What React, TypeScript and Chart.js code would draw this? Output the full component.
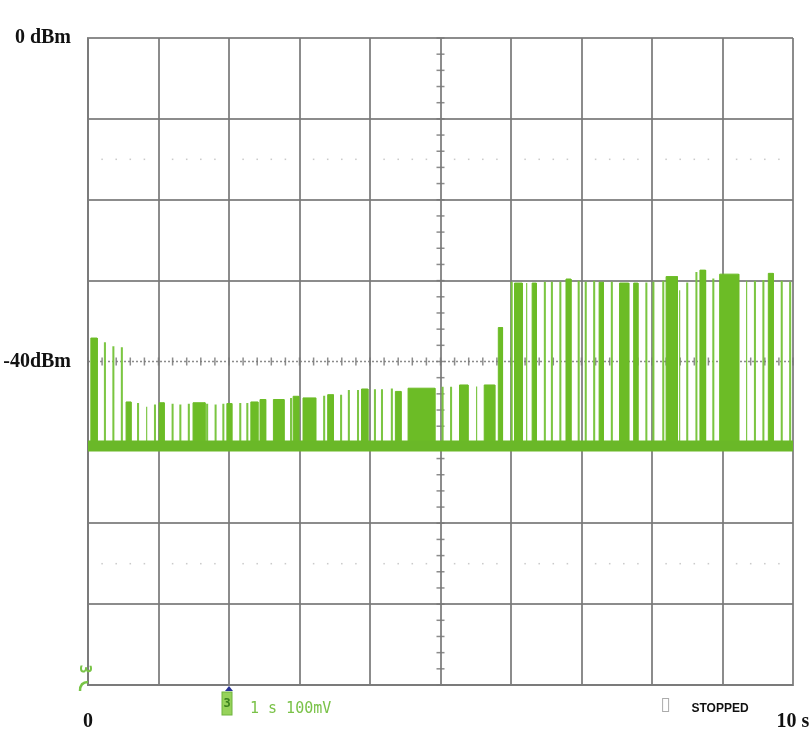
import React, { useEffect, useRef } from 'react';
import { Chart, registerables } from 'chart.js';

Chart.register(...registerables);

// Axis labels
const yLabelValues = [0, -40];
const yLabelTexts = ['0 dBm', '-40dBm'];
const xLabelValues = [0, 10];
const xLabelTexts = ['0', '10 s'];

// Noise floor (dBm) and base of the bursts
const floorLevel = -50.45;
const burstBase = -50.2;

// Thin single bursts: time (s) and peak level (dBm)
const spikeTimes = [
  0.24, 0.36, 0.48, 0.71, 0.83, 0.95, 1.2, 1.31, 1.43, 1.69, 1.81, 1.92, 2.16, 2.26,
  2.88, 3.35, 3.59, 3.7, 3.83, 4.07, 4.17, 4.31, 5.03, 5.15, 5.51,
  6.01, 6.22, 6.48, 6.58, 6.7, 6.96, 7.06, 7.18, 7.43, 7.92, 8.02, 8.16, 8.39, 8.5,
  8.63, 8.87, 9.34, 9.46, 9.58, 9.84, 9.96,
];
const spikeLevels = [
  -37.7, -38.2, -38.3, -45.2, -45.6, -45.4, -45.3, -45.4, -45.3, -45.3, -45.4, -45.3, -45.2, -45.2,
  -44.6, -44.3, -44.2, -43.6, -43.6, -43.5, -43.5, -43.4, -43.2, -43.2, -43.1,
  -30.2, -30.3, -30.2, -30.2, -30.2, -30.1, -30.2, -30.1, -30.2, -30.3, -30.2, -30.1, -31.2, -30.3,
  -29.0, -29.8, -30.0, -30.1, -30.0, -30.1, -30.2,
];

// Dense burst blocks: start (s), end (s), level (dBm)
const blockStarts = [
  0.04, 0.54, 1.01, 1.49, 1.97, 2.31, 2.44, 2.63, 2.91, 3.05, 3.4, 3.88, 4.36, 4.54,
  5.27, 5.62, 5.82, 6.05, 6.3, 6.78, 7.25, 7.54, 7.74, 8.2, 8.68, 8.96, 9.65,
];
const blockEnds = [
  0.13, 0.61, 1.08, 1.66, 2.04, 2.41, 2.52, 2.78, 2.99, 3.23, 3.48, 3.97, 4.44, 4.92,
  5.39, 5.77, 5.88, 6.16, 6.36, 6.85, 7.31, 7.67, 7.8, 8.36, 8.76, 9.23, 9.72,
];
const blockLevels = [
  -37.1, -45.0, -45.1, -45.1, -45.2, -45.0, -44.7, -44.7, -44.3, -44.5, -44.1, -43.4, -43.7, -43.3,
  -42.9, -42.9, -35.8, -30.3, -30.3, -29.8, -30.2, -30.3, -30.3, -29.5, -28.7, -29.2, -29.1,
];

const dottedLevels = [-15, -65];
const centerTime = 5;
const centerLevel = -40;
const triggerTime = 2;

const GRID = 'rgba(120,120,120,0.85)';
const GREEN = 'rgb(108,188,38)';
const GREEN_THIN = 'rgba(120,196,62,0.95)';

function rectPath(starts: number[], ends: number[], levels: number[]) {
  const pts: { x: number; y: number }[] = [];
  for (let i = 0; i < starts.length; i++) {
    pts.push({ x: starts[i], y: burstBase });
    pts.push({ x: starts[i], y: levels[i] });
    pts.push({ x: ends[i], y: levels[i] });
    pts.push({ x: ends[i], y: burstBase });
  }
  return pts;
}

const scopePlugin = {
  id: 'scope',
  beforeDraw(chart: any) {
    const { ctx, width, height } = chart;
    ctx.save();
    ctx.fillStyle = '#ffffff';
    ctx.fillRect(0, 0, width, height);
    ctx.restore();
  },
  beforeDatasetsDraw(chart: any) {
    const { ctx, scales } = chart;
    const xs = scales.x;
    const ys = scales.y;
    const xc = xs.getPixelForValue(centerTime);
    const yc = ys.getPixelForValue(centerLevel);
    ctx.save();
    ctx.strokeStyle = GRID;
    ctx.lineWidth = 1.5;
    ctx.setLineDash([2, 2]);
    ctx.beginPath();
    ctx.moveTo(xs.left, yc);
    ctx.lineTo(xs.right, yc);
    ctx.stroke();
    ctx.setLineDash([]);
    for (let v = -80; v <= 0.001; v += 2) {
      const y = ys.getPixelForValue(v);
      ctx.beginPath();
      ctx.moveTo(xc - 4, y);
      ctx.lineTo(xc + 4, y);
      ctx.stroke();
    }
    for (let i = 0; i <= 50; i++) {
      const x = xs.getPixelForValue(i * 0.2);
      ctx.beginPath();
      ctx.moveTo(x, yc - 4);
      ctx.lineTo(x, yc + 4);
      ctx.stroke();
    }
    ctx.fillStyle = 'rgba(150,150,150,0.5)';
    for (const lv of dottedLevels) {
      const y = ys.getPixelForValue(lv);
      for (let i = 0; i <= 50; i++) {
        if (i % 5 === 0) continue;
        const x = xs.getPixelForValue(i * 0.2);
        ctx.fillRect(x - 0.75, y - 0.75, 1.5, 1.5);
      }
    }
    ctx.restore();
  },
  afterDraw(chart: any) {
    const { ctx, scales } = chart;
    const xs = scales.x;
    const ys = scales.y;
    const bottom = ys.bottom;
    ctx.save();
    // left channel marker
    ctx.fillStyle = 'rgb(120,196,70)';
    ctx.font = 'bold 15px "DejaVu Sans Mono", monospace';
    ctx.textAlign = 'center';
    ctx.textBaseline = 'middle';
    ctx.save();
    ctx.translate(xs.left - 4, bottom - 16);
    ctx.rotate(Math.PI / 2);
    ctx.fillText('3', 0, 0);
    ctx.restore();
    ctx.strokeStyle = 'rgb(120,196,70)';
    ctx.lineWidth = 2.5;
    ctx.beginPath();
    ctx.moveTo(xs.left, bottom - 3);
    ctx.quadraticCurveTo(xs.left - 8, bottom - 3, xs.left - 8, bottom + 6);
    ctx.stroke();

    // trigger marker
    const xt = xs.getPixelForValue(triggerTime);
    ctx.fillStyle = 'rgb(40,50,150)';
    ctx.beginPath();
    ctx.moveTo(xt, bottom + 1);
    ctx.lineTo(xt - 4, bottom + 6);
    ctx.lineTo(xt + 4, bottom + 6);
    ctx.closePath();
    ctx.fill();
    ctx.fillStyle = 'rgb(150,210,90)';
    ctx.fillRect(xt - 7, bottom + 7, 10, 23);
    ctx.strokeStyle = 'rgb(110,180,60)';
    ctx.lineWidth = 1;
    ctx.strokeRect(xt - 7, bottom + 7, 10, 23);
    ctx.fillStyle = 'rgb(60,130,30)';
    ctx.font = 'bold 12px "DejaVu Sans Mono", monospace';
    ctx.fillText('3', xt - 2, bottom + 19);

    // timebase / scale text
    ctx.fillStyle = 'rgb(122,194,72)';
    ctx.font = '15px "DejaVu Sans Mono", monospace';
    ctx.textAlign = 'left';
    ctx.textBaseline = 'alphabetic';
    ctx.fillText('1 s 100mV', xt + 21, bottom + 28);

    // stopped indicator
    const xsb = xs.getPixelForValue(8.2);
    ctx.strokeStyle = 'rgba(150,150,150,0.8)';
    ctx.lineWidth = 1;
    ctx.strokeRect(xsb - 3.5, bottom + 13.5, 6, 13);
    ctx.fillStyle = '#111';
    ctx.font = 'bold 12px "Liberation Sans", sans-serif';
    ctx.fillText('STOPPED', xs.getPixelForValue(8.56), bottom + 27);
    ctx.restore();
  },
};

export default function App() {
  const ref = useRef<HTMLCanvasElement | null>(null);

  useEffect(() => {
    if (!ref.current) return;
    const chart = new Chart(ref.current, {
      type: 'line',
      data: {
        datasets: [
          {
            label: 'floor',
            data: [
              { x: 0, y: floorLevel },
              { x: 10, y: floorLevel },
            ],
            borderColor: 'rgb(106,184,40)',
            borderWidth: 11,
            pointRadius: 0,
            fill: false,
          },
          {
            label: 'blocks',
            data: rectPath(blockStarts, blockEnds, blockLevels),
            borderColor: GREEN,
            backgroundColor: GREEN,
            borderWidth: 1,
            pointRadius: 0,
            tension: 0,
            fill: { value: burstBase },
          },
          {
            label: 'spikes',
            data: rectPath(
              spikeTimes.map((t) => t - 0.006),
              spikeTimes.map((t) => t + 0.006),
              spikeLevels
            ),
            borderColor: GREEN_THIN,
            backgroundColor: GREEN_THIN,
            borderWidth: 1.2,
            pointRadius: 0,
            tension: 0,
            fill: { value: burstBase },
          },
        ],
      },
      options: {
        responsive: false,
        animation: false,
        events: [],
        layout: { padding: { left: 0, top: 38, right: 18, bottom: 0 } },
        plugins: {
          legend: { display: false },
          tooltip: { enabled: false },
        },
        scales: {
          x: {
            type: 'linear',
            min: 0,
            max: 10,
            afterFit: (s: any) => {
              s.height = 51;
              s.paddingLeft = 0;
              s.paddingRight = 0;
            },
            ticks: {
              stepSize: 1,
              autoSkip: false,
              maxRotation: 0,
              padding: 25,
              color: '#111',
              font: { family: '"Liberation Serif", serif', size: 20, weight: 'bold' },
              callback: (v: any) => {
                const i = xLabelValues.indexOf(Number(v));
                return i >= 0 ? xLabelTexts[i] : '';
              },
            },
            grid: { color: GRID, lineWidth: 2, drawTicks: false },
            border: { color: GRID, width: 2 },
          },
          y: {
            type: 'linear',
            min: -80,
            max: 0,
            afterFit: (s: any) => {
              s.width = 88;
              s.paddingTop = 0;
              s.paddingBottom = 0;
            },
            ticks: {
              stepSize: 10,
              autoSkip: false,
              padding: 17,
              color: '#111',
              font: { family: '"Liberation Serif", serif', size: 20, weight: 'bold' },
              callback: (v: any) => {
                const i = yLabelValues.indexOf(Number(v));
                return i >= 0 ? yLabelTexts[i] : '';
              },
            },
            grid: {
              color: (c: any) => (c.tick && c.tick.value === centerLevel ? 'rgba(0,0,0,0)' : GRID),
              lineWidth: 2,
              drawTicks: false,
            },
            border: { color: GRID, width: 2 },
          },
        },
      },
      plugins: [scopePlugin],
    } as any);
    return () => chart.destroy();
  }, []);

  return (
    <canvas
      ref={ref}
      width={811}
      height={736}
      style={{ position: 'absolute', left: 0, top: 0, width: 811, height: 736 }}
    />
  );
}
